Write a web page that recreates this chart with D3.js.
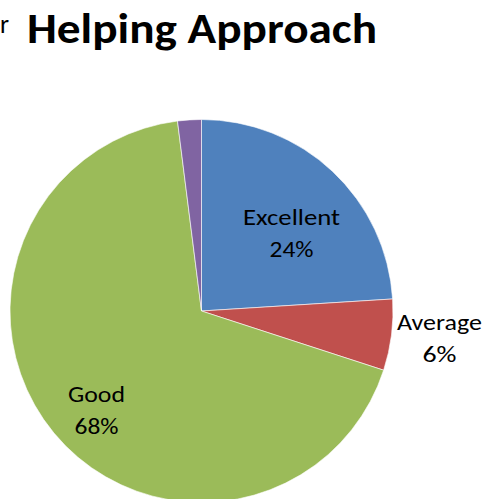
<!DOCTYPE html>
<html><head><meta charset="utf-8">
<script src="https://cdn.jsdelivr.net/npm/d3@7"></script>
<style>body{margin:0;background:#fff}svg{display:block}</style>
</head><body>
<svg id="c" width="489" height="499"></svg>
<script>
const categories = ["Excellent", "Average", "Good", "Poor"];
const values = [24, 6, 68, 2];
const labels = ["24%", "6%", "68%", ""];
const colors = ["#4F81BD", "#C0504D", "#9BBB59", "#8064A2"];
// label layout: [x center, baseline of name, name width, pct width]
const labelPos = [[291.5, 225, 97, 44], [439.5, 330, 85, 34], [96.5, 402, 57, 44], null];

const svg = d3.select("#c");
const cx = 201.5, cy = 311, r = 191.5;
const pie = d3.pie().sort(null).value(d => d)(values);
const arc = d3.arc().innerRadius(0).outerRadius(r);
const g = svg.append("g").attr("transform", `translate(${cx},${cy})`);
g.selectAll("path").data(pie).join("path")
  .attr("d", arc).attr("fill", (d, i) => colors[i])
  .attr("stroke", "#fff").attr("stroke-width", 0.6);

const font = "Carlito, Calibri, Lato, sans-serif";
svg.append("text").attr("x", 0).attr("y", 33).attr("font-family", font)
  .attr("font-size", 26).text("r");
svg.append("text").attr("x", 27).attr("y", 43).attr("font-family", font)
  .attr("font-weight", "bold").attr("font-size", 43).attr("textLength", 350)
  .attr("lengthAdjust", "spacingAndGlyphs").text("Helping Approach");

categories.forEach((c, i) => {
  if (!labelPos[i]) return;
  const [x, y, w1, w2] = labelPos[i];
  svg.append("text").attr("x", x - w1 / 2).attr("y", y).attr("font-family", font)
    .attr("font-size", 22).attr("textLength", w1).attr("lengthAdjust", "spacingAndGlyphs").text(c);
  svg.append("text").attr("x", x - w2 / 2).attr("y", y + 32).attr("font-family", font)
    .attr("font-size", 22).attr("textLength", w2).attr("lengthAdjust", "spacingAndGlyphs").text(labels[i]);
});
</script>
</body></html>
